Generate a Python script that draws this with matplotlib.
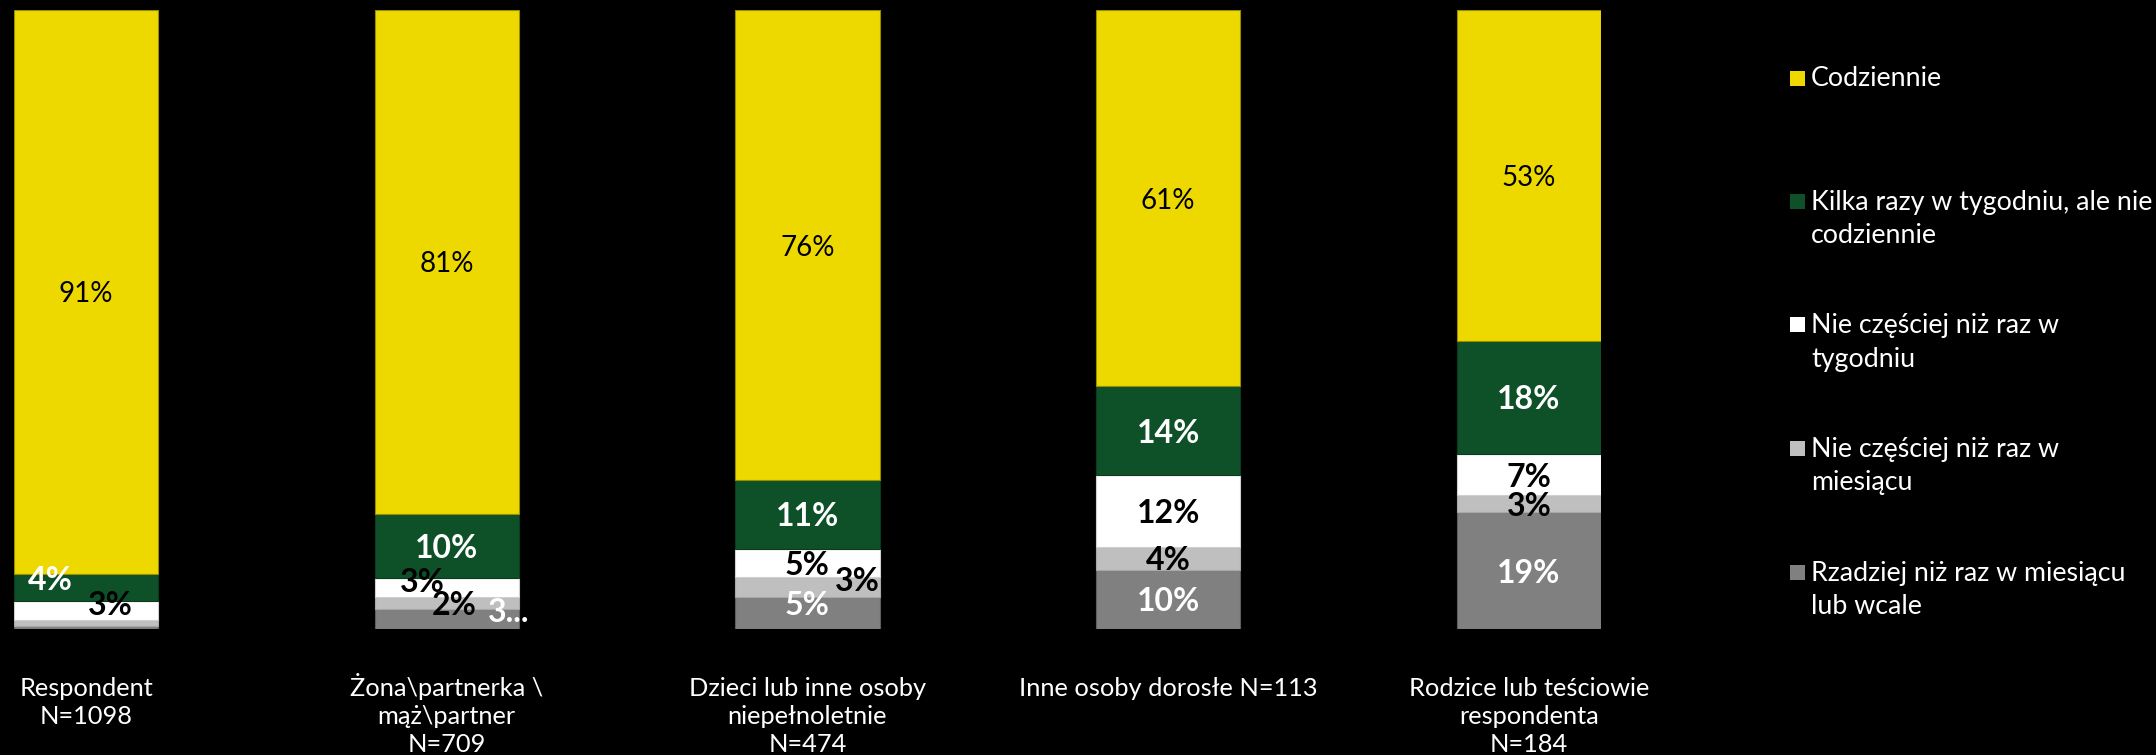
import matplotlib
matplotlib.use("Agg")
import matplotlib.pyplot as plt
from matplotlib.patches import Rectangle

# ---- data ----
categories = [
    "Respondent\nN=1098",
    "Żona\\partnerka \\\nmąż\\partner\nN=709",
    "Dzieci lub inne osoby\nniepełnoletnie\nN=474",
    "Inne osoby dorosłe N=113",
    "Rodzice lub teściowie\nrespondenta\nN=184",
]
series_names = [
    "Codziennie",
    "Kilka razy w tygodniu, ale nie\ncodziennie",
    "Nie częściej niż raz w\ntygodniu",
    "Nie częściej niż raz w\nmiesiącu",
    "Rzadziej niż raz w miesiącu\nlub wcale",
]
codziennie = [91.1, 81.4, 76.0, 60.8, 53.4]
kilka_razy = [4.4, 10.4, 11.0, 14.4, 18.4]
raz_w_tygodniu = [3.1, 3.1, 4.6, 11.6, 6.6]
raz_w_miesiacu = [0.9, 1.9, 3.2, 3.6, 2.7]
rzadziej = [0.5, 3.2, 5.2, 9.6, 18.9]

# ---- style ----
W, H, DPI = 2156, 755, 100
BG = "black"
colors = ["#EDD900", "#0E5129", "#FFFFFF", "#BFBFBF", "#808080"]
edges = ["#9A8E00", "#0A3B1E", "#D0D0D0", "#A8A8A8", "#5E5E5E"]
label_colors = ["black", "white", "black", "black", "white"]
FONT = "Lato"

# label tweaks: (series, bar) -> (dx px, dy px, ha) ; hidden labels ; text overrides
label_shift = {
    (1, 0): (-36, 9.5, "center"),
    (2, 0): (24, 7.7, "center"),
    (2, 1): (-24.5, 7.8, "center"),
    (3, 1): (7.5, 0.3, "center"),
    (4, 1): (41.5, 9.0, "left"),
    (3, 2): (50, 7.9, "center"),
    (4, 2): (0, 9.9, "center"),
}
hidden = {(3, 0), (4, 0)}
text_override = {(4, 1): "3..."}

fig = plt.figure(figsize=(W / DPI, H / DPI), dpi=DPI, facecolor=BG)
ax_left, ax_right = 13.9 / W, 1601 / W
ax_bottom, ax_top = 1 - 629 / H, 1 - 10 / H
ax = fig.add_axes([ax_left, ax_bottom, ax_right - ax_left, ax_top - ax_bottom])
ax.set_facecolor(BG)
ax.set_xlim(-0.2, 4.2)
ax.set_ylim(0, 100)
ax.axis("off")

x = list(range(len(categories)))
stack_order = [rzadziej, raz_w_miesiacu, raz_w_tygodniu, kilka_razy, codziennie]
stack_idx = [4, 3, 2, 1, 0]
bottom = [0.0] * len(x)
bars = {}
for vals, si in zip(stack_order, stack_idx):
    ax.bar(x, vals, width=0.4, bottom=bottom, color=colors[si],
           edgecolor=edges[si], linewidth=0.8, label=series_names[si])
    bars[si] = (list(bottom), vals)
    bottom = [bo + v for bo, v in zip(bottom, vals)]

# value labels
for si in range(5):
    bots, vals = bars[si]
    for i in x:
        if (si, i) in hidden:
            continue
        txt = text_override.get((si, i), f"{round(vals[i])}%")
        dx, dy, ha = label_shift.get((si, i), (0, 0, "center"))
        yc = bots[i] + vals[i] / 2
        if si == 0:
            fs, fw = 20, "normal"
        else:
            fs, fw = 23, "bold"
        ax.annotate(txt, xy=(i, yc), xytext=(dx * 72 / DPI, dy * 72 / DPI),
                    textcoords="offset points", ha=ha, va="center_baseline",
                    color=label_colors[si], fontsize=fs, fontweight=fw,
                    family=FONT, annotation_clip=False)

# category labels (line by line, first baseline fixed)
CAT_BASE, CAT_STEP = 695.5, 28.5
for i, cat in enumerate(categories):
    for j, line in enumerate(cat.split("\n")):
        off = CAT_BASE + j * CAT_STEP - 629
        ax.annotate(line, xy=(i, 0), xytext=(0, -off * 72 / DPI),
                    textcoords="offset points", ha="center", va="baseline",
                    color="white", fontsize=18.3, family=FONT,
                    annotation_clip=False)

# legend (manual)
leg_y0, leg_step, leg_line = 78, 123.5, 33
for k, name in enumerate(series_names):
    yc = leg_y0 + leg_step * k
    fig.add_artist(Rectangle((1790 / W, 1 - (yc + 7.5) / H), 15 / W, 15 / H,
                             transform=fig.transFigure, facecolor=colors[k],
                             edgecolor="none"))
    for j, line in enumerate(name.split("\n")):
        fig.text(1811 / W, 1 - (yc + 8.5 + j * leg_line) / H, line,
                 ha="left", va="baseline", color="white", fontsize=19.3,
                 family=FONT)

fig.savefig("out.png", dpi=DPI, facecolor=BG)
